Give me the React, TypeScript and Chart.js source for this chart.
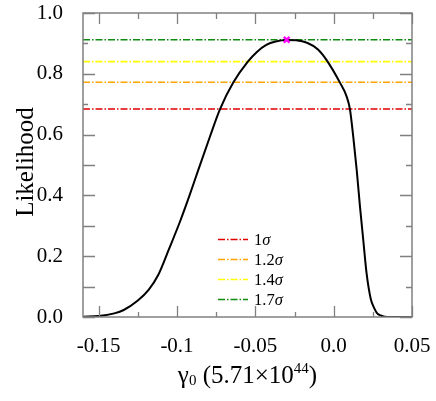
import React, { useEffect, useRef } from "react";
import { Chart, registerables } from "chart.js";

Chart.register(...registerables);

// ---- data ----
const gammaValues = [
  -0.16, -0.15, -0.14, -0.134, -0.125, -0.118, -0.112, -0.105, -0.098, -0.092,
  -0.0864, -0.079, -0.0726, -0.0641, -0.0548, -0.049, -0.043, -0.037, -0.03,
  -0.024, -0.017, -0.01, -0.0045, 0.004, 0.0083, 0.0104, 0.0125, 0.0147, 0.0168,
  0.0189, 0.021, 0.0236, 0.0258, 0.0278, 0.03, 0.0327, 0.04, 0.05,
];
const likelihoodValues = [
  0.001, 0.003, 0.012, 0.023, 0.054, 0.09, 0.138, 0.225, 0.315, 0.4,
  0.484, 0.593, 0.683, 0.771, 0.84, 0.872, 0.895, 0.906, 0.911,
  0.91, 0.902, 0.88, 0.845, 0.771, 0.725, 0.683, 0.593, 0.484, 0.363,
  0.253, 0.144, 0.061, 0.03, 0.012, 0.005, 0.001, 0, 0,
];
const sigmaLabels = ["1", "1.2", "1.4", "1.7"];
const sigmaLevels = [0.684, 0.772, 0.84, 0.912];
const sigmaColors = ["#e00000", "#ffa500", "#ffff00", "#108a10"];
const bestFit = { x: -0.03, y: 0.912 };
const xRange = [-0.16, 0.05];
const yRange = [0, 1];
const xTickValues = [-0.15, -0.1, -0.05, 0, 0.05];
const xTickLabels = ["-0.15", "-0.1", "-0.05", "0.0", "0.05"];
const yTickValues = [0, 0.2, 0.4, 0.6, 0.8, 1.0];
const yTickLabels = ["0.0", "0.2", "0.4", "0.6", "0.8", "1.0"];
const xMinorStep = 0.025;
const yMinorStep = 0.1;

const SERIF = "'Liberation Serif', 'Times New Roman', Tinos, serif";
const DASH = [7, 2, 1.5, 2];

const frameTicksPlugin = {
  id: "frameTicks",
  afterDatasetsDraw(chart: any) {
    const { ctx, chartArea } = chart;
    const xs = chart.scales.x;
    const ys = chart.scales.y;
    const { left, right, top, bottom } = chartArea;
    ctx.save();
    ctx.strokeStyle = "#808080";
    ctx.lineWidth = 1.5;
    ctx.strokeRect(left, top, right - left, bottom - top);
    ctx.lineWidth = 1.3;
    for (let k = 0; ; k++) {
      const v = -0.15 + k * xMinorStep;
      if (v > xRange[1] + 1e-9) break;
      const major = k % 2 === 0;
      const px = Math.round(xs.getPixelForValue(v)) + 0.5;
      ctx.beginPath();
      ctx.moveTo(px, bottom);
      ctx.lineTo(px, bottom - (major ? 11 : 5));
      ctx.moveTo(px, top);
      ctx.lineTo(px, top + (major ? 11 : 6));
      ctx.stroke();
    }
    for (let k = 0; k <= 10; k++) {
      const v = k * yMinorStep;
      const major = k % 2 === 0;
      const py = Math.round(ys.getPixelForValue(v)) + 0.5;
      const leftLen = major || k < 7 ? 12 : 5;
      ctx.beginPath();
      ctx.moveTo(left, py);
      ctx.lineTo(left + leftLen, py);
      ctx.moveTo(right, py);
      ctx.lineTo(right - (major ? 12 : 6), py);
      ctx.stroke();
    }
    ctx.restore();
  },
  afterDraw(chart: any) {
    const { ctx, chartArea } = chart;
    const { left, right, top, bottom } = chartArea;
    ctx.save();
    ctx.fillStyle = "#000";
    ctx.save();
    ctx.translate(33, (top + bottom) / 2 - 3);
    ctx.rotate(-Math.PI / 2);
    ctx.font = `25px ${SERIF}`;
    ctx.textAlign = "center";
    ctx.textBaseline = "alphabetic";
    ctx.fillText("Likelihood", 0, 0);
    ctx.restore();

    const big = `25px ${SERIF}`;
    const small = `15px ${SERIF}`;
    const parts = [
      { t: "γ", f: big, dy: 0 },
      { t: "0", f: small, dy: 2 },
      { t: " (5.71×10", f: big, dy: 0 },
      { t: "44", f: small, dy: -10 },
      { t: ")", f: big, dy: 0 },
    ];
    let total = 0;
    for (const p of parts) {
      ctx.font = p.f;
      total += ctx.measureText(p.t).width;
    }
    let x = (left + right) / 2 - total / 2;
    const base = 383;
    ctx.textAlign = "left";
    ctx.textBaseline = "alphabetic";
    for (const p of parts) {
      ctx.font = p.f;
      ctx.fillText(p.t, x, base + p.dy);
      x += ctx.measureText(p.t).width;
    }

    const lx = left + 135;
    const ly0 = top + 226.5;
    for (let i = 0; i < sigmaLabels.length; i++) {
      const y = ly0 + i * 20;
      ctx.strokeStyle = sigmaColors[i];
      ctx.lineWidth = 1.5;
      ctx.setLineDash(DASH);
      ctx.beginPath();
      ctx.moveTo(lx, y);
      ctx.lineTo(lx + 30, y);
      ctx.stroke();
      ctx.setLineDash([]);
      ctx.textBaseline = "middle";
      ctx.font = `16.5px ${SERIF}`;
      ctx.fillStyle = "#000";
      const tx = lx + 36;
      ctx.fillText(sigmaLabels[i], tx, y + 1);
      const w = ctx.measureText(sigmaLabels[i]).width;
      ctx.font = `italic 16.5px ${SERIF}`;
      ctx.fillText("σ", tx + w, y + 1);
    }
    ctx.restore();
  },
};

export default function App() {
  const ref = useRef<HTMLCanvasElement>(null);
  useEffect(() => {
    if (!ref.current) return;
    let chart: Chart | null = null;
    let cancelled = false;
    const build = () => {
      if (cancelled || !ref.current) return;
      const curve = gammaValues.map((g, i) => ({ x: g, y: likelihoodValues[i] }));
      const sigmaSets = sigmaLevels.map((lv, i) => ({
        label: sigmaLabels[i] + "σ",
        data: [
          { x: xRange[0], y: lv },
          { x: xRange[1], y: lv },
        ],
        borderColor: sigmaColors[i],
        borderWidth: 1.6,
        borderDash: DASH,
        pointRadius: 0,
        showLine: true,
        order: 2,
      }));
      chart = new Chart(ref.current, {
        type: "scatter",
        data: {
          datasets: [
            {
              label: "best",
              data: [bestFit],
              pointStyle: "crossRot",
              pointRadius: 4,
              borderColor: "#ff00ff",
              backgroundColor: "#ff00ff",
              borderWidth: 2.5,
              order: 0,
            } as any,
            {
              label: "likelihood",
              data: curve,
              showLine: true,
              borderColor: "#000",
              borderWidth: 2,
              pointRadius: 0,
              cubicInterpolationMode: "monotone",
              order: 1,
            },
            ...sigmaSets,
          ],
        },
        options: {
          animation: false,
          responsive: false,
          devicePixelRatio: 1,
          layout: { padding: { top: 13, right: 24, left: 0, bottom: 0 } },
          plugins: { legend: { display: false }, tooltip: { enabled: false } },
          scales: {
            x: {
              type: "linear",
              min: xRange[0],
              max: xRange[1],
              grid: { display: false },
              border: { display: false },
              afterBuildTicks: (s: any) => {
                s.ticks = xTickValues.map((v) => ({ value: v }));
              },
              afterFit: (s: any) => {
                s.height = 84;
                s.paddingLeft = 0;
                s.paddingRight = 0;
              },
              ticks: {
                padding: 9,
                color: "#000",
                maxRotation: 0,
                autoSkip: false,
                font: { family: SERIF, size: 21 },
                callback: (_v: any, i: number) => xTickLabels[i],
              },
            },
            y: {
              type: "linear",
              min: yRange[0],
              max: yRange[1],
              grid: { display: false },
              border: { display: false },
              afterBuildTicks: (s: any) => {
                s.ticks = yTickValues.map((v) => ({ value: v }));
              },
              afterFit: (s: any) => {
                s.width = 83;
                s.paddingTop = 0;
                s.paddingBottom = 0;
              },
              ticks: {
                padding: 12,
                color: "#000",
                autoSkip: false,
                font: { family: SERIF, size: 21 },
                callback: (_v: any, i: number) => yTickLabels[i],
              },
            },
          },
        },
        plugins: [frameTicksPlugin],
      });
    };
    const fonts = (document as any).fonts;
    if (fonts && fonts.load) {
      Promise.all([
        fonts.load(`21px "Liberation Serif"`),
        fonts.load(`italic 16px "Liberation Serif"`),
      ]).then(build, build);
    } else {
      build();
    }
    return () => {
      cancelled = true;
      if (chart) chart.destroy();
    };
  }, []);
  return (
    <div style={{ position: "fixed", left: 0, top: 0, width: 436, height: 401, background: "#fff" }}>
      <canvas ref={ref} width={436} height={401} />
    </div>
  );
}
